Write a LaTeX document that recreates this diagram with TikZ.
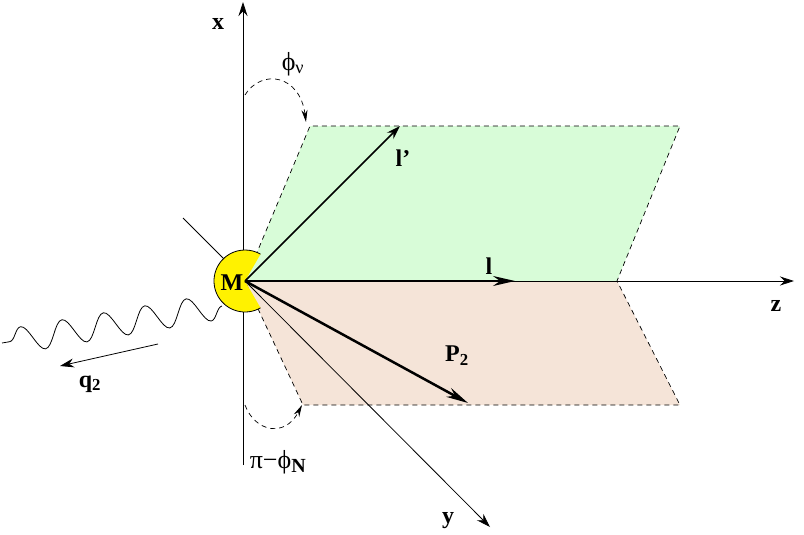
\documentclass[tikz,border=0pt]{standalone}
\usepackage{fontspec}
\setmainfont{Liberation Serif}
\usetikzlibrary{arrows.meta,decorations.pathmorphing}
\definecolor{beige}{RGB}{245,228,216}
\definecolor{lgreen}{RGB}{216,252,216}
\begin{document}
\begin{tikzpicture}[x=1pt,y=-1pt,
  lab/.style={font=\fontsize{24}{24}\selectfont\bfseries},
  glab/.style={font=\fontsize{26}{26}\selectfont},
  ax/.style={line width=0.8pt,-{Stealth[length=14pt,width=9pt]}},
  thk/.style={line width=2.5pt,-{Stealth[length=22pt,width=10pt]}},
  pl/.style={dash pattern=on 5pt off 4pt,line width=0.7pt}]
\useasboundingbox (0,0) rectangle (804,535);
\coordinate (O) at (245,281);
\fill[lgreen] (O) -- (310,126) -- (680,126) -- (617,281) -- cycle;
\fill[beige] (O) -- (617,281) -- (680,405) -- (303,405) -- cycle;
\draw[pl] (O) -- (310,126) -- (680,126) -- (617,281) -- (680,405) -- (303,405) -- (O);
\coordinate (xb) at (243,465); \coordinate (xt) at (243,2);
\draw[ax] (xb) -- (xt);
\node[lab] (xl) at (218,24) {x};
\draw[line width=0.8pt] (183,218) -- (225,260);
\draw[line width=0.8pt,decorate,decoration={snake,amplitude=13pt,segment length=42pt}] (222,306) -- (2,343);
\fill[yellow] (O) -- ++(60:31) arc[start angle=60,end angle=300,radius=31] -- cycle;
\draw[line width=0.8pt] (O) ++(60:31) arc[start angle=60,end angle=300,radius=31];
\node[lab] (M) at (232,283) {M};
\coordinate (zt) at (794,281);
\draw[ax] (O) -- (zt);
\node[lab] (zl) at (776,306) {z};
\coordinate (le) at (515,281);
\draw[thk,line width=1.8pt] (O) -- (le);
\node[lab] (ll) at (489,266) {l};
\coordinate (lpe) at (400,126);
\draw[line width=1.5pt,-{Stealth[length=14pt,width=9pt]}] (O) -- (lpe);
\node[lab] (lpl) at (403,158) {l’};
\coordinate (pe) at (468,403);
\draw[thk] (O) -- (pe);
\node[lab] (pl2) at (457,356) {P\textsubscript{2}};
\coordinate (ye) at (490,527);
\draw[ax] (O) -- (ye);
\node[lab] (yl) at (448,521) {y};
\coordinate (q1) at (158,344); \coordinate (q2) at (60,366);
\draw[ax] (q1) -- (q2);
\node[lab] (ql) at (90,384) {q\textsubscript{2}};
\coordinate (a1) at (245,95); \coordinate (a2) at (306,122);
\draw[pl,-{Stealth[length=12pt,width=6pt]}] (a1) .. controls (262,68) and (300,75) .. (a2);
\node[glab] (phv) at (293,64) {ϕ\textsubscript{ν}};
\coordinate (b1) at (245,405); \coordinate (b2) at (302,405);
\draw[pl,-{Stealth[length=12pt,width=6pt]}] (b1) .. controls (255,432) and (285,438) .. (b2);
\node[glab] (phn) at (278,462) {π−ϕ\textsubscript{\fontsize{20}{20}\selectfont\bfseries N}};
\end{tikzpicture}
\end{document}
